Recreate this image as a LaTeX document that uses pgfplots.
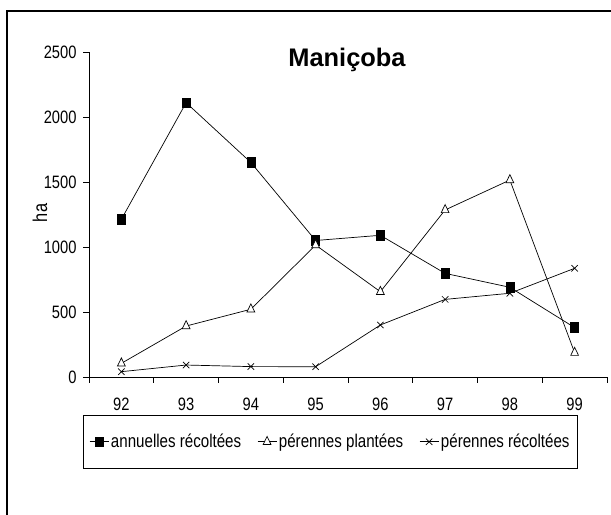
\documentclass[border=0pt]{standalone}
\usepackage{fontspec}
\setmainfont{Liberation Sans}[FakeStretch=0.82]
\newfontfamily\titlefont{Liberation Sans}
\usepackage{pgfplots}
\pgfplotsset{compat=1.18}
\newcommand\tickfont{\fontsize{18}{20}\selectfont}
\newcommand\legfont{\fontsize{18.5}{20}\selectfont}
\begin{document}
\begin{tikzpicture}[x=1bp,y=1bp]
\useasboundingbox (0,0) rectangle (611,515);
\fill[white] (0,0) rectangle (611,515);
\draw[line width=2bp] (7,-20) -- (7,504) -- (640,504);
\begin{axis}[
  at={(89bp,138bp)}, anchor=south west,
  scale only axis, width=518bp, height=325bp,
  xmin=-0.5, xmax=7.5, ymin=0, ymax=2500,
  axis lines=left, axis line style={-, line width=0.8bp},
  tick align=outside,
  major tick length=6bp,
  tick style={black, line width=0.8bp},
  xtick={-0.5,0.5,...,7.5}, xticklabels={},
  extra x ticks={0,1,2,3,4,5,6,7},
  extra x tick labels={92,93,94,95,96,97,98,99},
  extra x tick style={major tick length=0pt, xticklabel style={yshift=-17bp}},
  ytick={0,500,1000,1500,2000,2500},
  yticklabel style={xshift=-3bp},
  /pgf/number format/assume math mode=true,
  /pgf/number format/1000 sep={},
  tick label style={font=\tickfont},
  legend columns=3,
  legend style={at={(rel axis cs:-0.0116,-0.1169)}, anchor=north west,
    draw=black, line width=0.6bp, font=\legfont, inner xsep=6bp, inner ysep=17bp,
    nodes={inner xsep=2bp},
    /tikz/every even column/.append style={column sep=14bp}},
  legend image code/.code={\draw[mark repeat=2,mark phase=2,#1] plot coordinates {(0bp,0bp) (9.5bp,0bp) (19bp,0bp)};},
]
\addplot[black, line width=0.7bp, mark=square*, mark size=4bp, mark options={yscale=1.2, fill=black, solid}] coordinates {
(0,1213) (1,2110) (2,1650) (3,1050) (4,1090) (5,797) (6,690) (7,380)};
\addlegendentry{annuelles récoltées}
\addplot[black, line width=0.7bp, mark=triangle*, mark size=4.5bp, mark options={yscale=1.2, fill=white, solid}] coordinates {
(0,105) (1,392) (2,521) (3,1015) (4,656) (5,1285) (6,1515) (7,187)};
\addlegendentry{pérennes plantées}
\addplot[black, line width=0.7bp, mark=x, mark size=4.5bp, mark options={solid}] coordinates {
(0,41) (1,92) (2,80) (3,79) (4,400) (5,597) (6,644) (7,836)};
\addlegendentry{pérennes récoltées}
\end{axis}
\node[font=\fontsize{20}{22}\selectfont, rotate=90] at (40,302) {ha};
\node[font=\titlefont\bfseries\fontsize{25.5}{28}\selectfont, anchor=base] at (347,448) {Maniçoba};
\end{tikzpicture}
\end{document}
